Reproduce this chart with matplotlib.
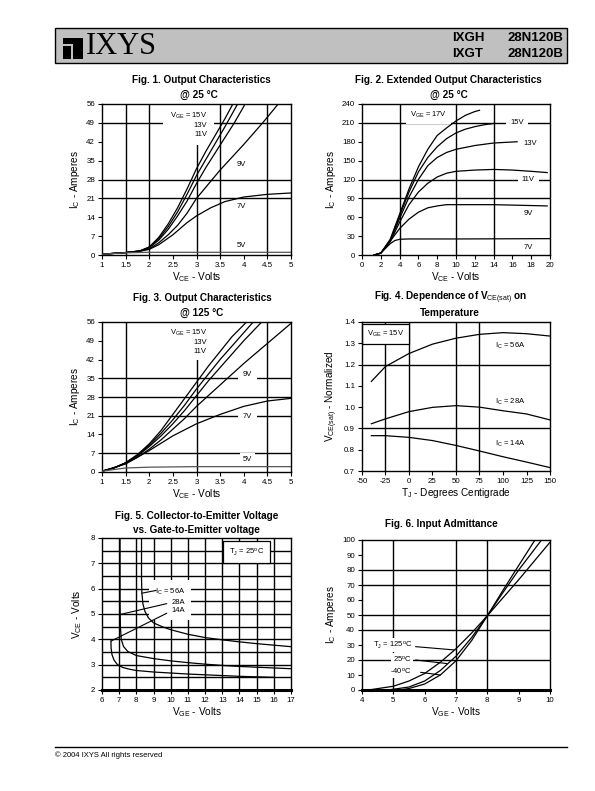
# IXGH/IXGT 28N120B datasheet page - six characteristic curves
import numpy as np
import matplotlib.pyplot as plt
from matplotlib.patches import Rectangle
from matplotlib.lines import Line2D

plt.rcParams['font.family'] = ['Liberation Sans', 'DejaVu Sans']
plt.rcParams['mathtext.fontset'] = 'custom'
plt.rcParams['mathtext.rm'] = 'Liberation Sans'
plt.rcParams['mathtext.it'] = 'Liberation Sans'
plt.rcParams['mathtext.bf'] = 'Liberation Sans:bold'

W, H = 595, 791

# ---- Fig 1: output characteristics @ 25C (VCE, IC) ----
f1_x15 = [1, 1.5, 1.8, 2.0, 2.2, 2.4, 2.6, 2.8, 3.0, 3.2, 3.4, 3.6, 3.77]
f1_y15 = [0.3, 0.9, 1.5, 3.0, 6.5, 11.5, 17.5, 24.5, 32, 38.5, 44.5, 50.5, 56]
f1_x13 = [1, 1.5, 1.8, 2.0, 2.2, 2.4, 2.6, 2.8, 3.0, 3.2, 3.4, 3.6, 3.87]
f1_y13 = [0.3, 0.9, 1.5, 2.9, 6.0, 10.5, 16, 22.5, 29.5, 35.5, 41.5, 47.5, 56]
f1_x11 = [1, 1.5, 1.8, 2.0, 2.2, 2.4, 2.6, 2.8, 3.0, 3.2, 3.4, 3.6, 3.8, 4.03]
f1_y11 = [0.3, 0.9, 1.5, 2.7, 5.5, 9.5, 14.5, 20, 26.5, 32.5, 38, 43.5, 49, 56]
f1_x9 = [1, 1.5, 1.8, 2.0, 2.2, 2.4, 2.6, 2.8, 3.0, 3.5, 4.0, 4.4, 4.73]
f1_y9 = [0.3, 0.9, 1.4, 2.3, 4.5, 7.5, 11, 15.5, 21, 31.5, 41, 49, 56]
f1_x7 = [1, 1.5, 1.8, 2.0, 2.2, 2.5, 2.8, 3.0, 3.3, 3.6, 4.0, 4.5, 5.0]
f1_y7 = [0.3, 0.9, 1.4, 2.1, 3.8, 7.5, 12, 14.5, 17.5, 19.8, 21.5, 22.5, 23]
f1_x5 = [1, 1.5, 2.0, 2.5, 3, 4, 5]
f1_y5 = [0.3, 0.8, 1.0, 1.0, 1.0, 1.0, 1.0]

# ---- Fig 2: extended output characteristics @ 25C ----
f2_x17 = [1.3, 2, 3, 4, 5, 6, 7, 8, 9, 10, 11, 12, 12.5]
f2_y17 = [0, 3, 25, 65, 105, 140, 168, 190, 202, 213, 222, 228, 230]
f2_x15 = [1.3, 2, 3, 4, 5, 6, 7, 8, 9, 10, 11, 12, 13, 14]
f2_y15 = [0, 3, 23, 62, 100, 132, 155, 172, 185, 194, 200, 204, 207, 209]
f2_x13 = [1.3, 2, 3, 4, 5, 6, 7, 8, 9, 10, 12, 14, 16.5]
f2_y13 = [0, 3, 22, 58, 92, 120, 142, 155, 163, 168, 174, 178, 180]
f2_x11 = [1.3, 2, 3, 4, 5, 6, 7, 8, 9, 10, 12, 14, 16, 18, 19.7]
f2_y11 = [0, 3, 21, 52, 80, 100, 114, 124, 130, 133, 135, 136, 135, 133, 131]
f2_x9 = [1.3, 2, 3, 4, 5, 6, 7, 8, 9, 10, 14, 19.7]
f2_y9 = [0, 3, 22, 42, 57, 68, 75, 78, 80, 80, 80, 78]
f2_x7 = [1.3, 2, 3, 3.5, 4, 5, 10, 20]
f2_y7 = [0, 3, 18, 23, 25, 25.5, 25.5, 26]

# ---- Fig 3: output characteristics @ 125C ----
f3_x15 = [1, 1.25, 1.5, 1.75, 2, 2.25, 2.5, 2.75, 3, 3.25, 3.5, 3.75, 4.06]
f3_y15 = [0.3, 1.5, 3.5, 6.5, 10.5, 15.5, 21.5, 27.5, 33.5, 39.5, 45, 50.5, 56]
f3_x13 = [1, 1.25, 1.5, 1.75, 2, 2.25, 2.5, 2.75, 3, 3.25, 3.5, 3.75, 4, 4.2]
f3_y13 = [0.3, 1.5, 3.4, 6.2, 10, 14.5, 19.5, 25, 31, 36.5, 42, 47, 52, 56]
f3_x11 = [1, 1.25, 1.5, 1.75, 2, 2.25, 2.5, 2.75, 3, 3.25, 3.5, 3.75, 4, 4.38]
f3_y11 = [0.3, 1.5, 3.3, 6.0, 9.5, 13.5, 18, 23, 28.5, 34, 39, 44, 49, 56]
f3_x9 = [1, 1.25, 1.5, 1.75, 2, 2.25, 2.5, 2.75, 3, 3.5, 4, 4.5, 5]
f3_y9 = [0.3, 1.5, 3.2, 5.5, 8.5, 12, 16, 20, 24.5, 32.5, 40.5, 48, 55.5]
f3_x7 = [1, 1.5, 2, 2.5, 3, 3.5, 4, 4.5, 5]
f3_y7 = [0.3, 3, 8, 13.5, 18, 21.5, 24.5, 26.5, 27.5]
f3_x5 = [1, 1.5, 2, 3, 5]
f3_y5 = [0.3, 1.5, 1.8, 2.0, 2.0]

# ---- Fig 4: VCE(sat) normalized vs temperature ----
f4_t = [-40, -25, 0, 25, 50, 75, 100, 125, 150]
f4_56a = [1.121, 1.191, 1.252, 1.296, 1.324, 1.342, 1.350, 1.345, 1.334]
f4_28a = [0.922, 0.945, 0.979, 0.999, 1.007, 1.000, 0.983, 0.968, 0.940]
f4_14a = [0.866, 0.866, 0.858, 0.843, 0.820, 0.794, 0.767, 0.742, 0.716]

# ---- Fig 5: VCE vs VGE @ 25C ----
f5_x56 = [8.3, 8.3, 8.32, 8.38, 8.5, 8.7, 9.0, 9.5, 10, 11, 12, 13, 14, 15, 16, 17]
f5_y56 = [8.0, 6.4, 5.85, 5.4, 5.1, 4.85, 4.65, 4.5, 4.38, 4.2, 4.07, 3.98, 3.9, 3.83, 3.77, 3.71]
f5_x28 = [7.05, 7.05, 7.07, 7.12, 7.25, 7.5, 8, 9, 10, 11, 12, 13, 14, 15, 16, 17]
f5_y28 = [8.0, 5.5, 4.5, 4.0, 3.72, 3.52, 3.36, 3.24, 3.15, 3.08, 3.02, 2.97, 2.93, 2.9, 2.87, 2.84]
f5_x14 = [6.52, 6.53, 6.58, 6.7, 6.9, 7.2, 7.6, 8, 9, 10, 11, 12, 13, 14, 15, 16]
f5_y14 = [3.93, 3.65, 3.4, 3.18, 3.0, 2.89, 2.82, 2.77, 2.71, 2.67, 2.63, 2.6, 2.57, 2.54, 2.52, 2.5]

# ---- Fig 6: input admittance ----
f6_x125 = [4.3, 5, 5.5, 6, 6.5, 7, 7.5, 8, 8.5, 9, 9.5, 10]
f6_y125 = [0.3, 2.5, 6, 11, 18.5, 27.5, 38, 49.5, 61.5, 73.5, 86, 98.5]
f6_x25 = [4.8, 5, 5.5, 6, 6.5, 7, 7.5, 8, 8.5, 9, 9.73]
f6_y25 = [0, 0.5, 2, 6, 13, 22.5, 35, 49.5, 65, 80, 100]
f6_xm40 = [5.2, 5.5, 6, 6.5, 7, 7.5, 8, 8.5, 9, 9.52]
f6_ym40 = [0, 1, 4, 10, 19.5, 33, 49.5, 66.5, 83, 100]


def px_axes(fig, l, t, r, b):
    return fig.add_axes([l / W, 1 - b / H, (r - l) / W, (b - t) / H])


def setup(ax, xlim, ylim, xticks, yticks, yfmt='{:g}'):
    ax.set_xlim(xlim)
    ax.set_ylim(ylim)
    ax.set_xticks(xticks)
    ax.set_xticklabels(['{:g}'.format(v) for v in xticks])
    ax.set_yticks(yticks)
    ax.set_yticklabels([yfmt.format(v) for v in yticks])
    ax.tick_params(direction='out', length=3, width=0.8, labelsize=5.7, pad=2)
    for s in ax.spines.values():
        s.set_linewidth(1.0)


def grid(ax, xs, ys):
    for v in xs:
        ax.axvline(v, color='k', lw=1.0, zorder=1)
    for v in ys:
        ax.axhline(v, color='k', lw=1.0, zorder=1)


def curve(ax, x, y, color='k'):
    ax.plot(x, y, color=color, lw=0.9, zorder=3)


def label(ax, x, y, s, ha='left', pad=1.5, ec='none', **kw):
    ax.text(x, y, s, fontsize=5.5, ha=ha, va='center', zorder=2,
            bbox=dict(fc='white', ec=ec, pad=pad, lw=0.9), **kw)


def leader(ax, start, end):
    ax.annotate('', xy=end, xytext=start, zorder=3,
                arrowprops=dict(arrowstyle='-', lw=0.8, color='k',
                                shrinkA=0, shrinkB=0))


def title(x, y, s):
    fig.text(x / W, 1 - y / H, s, ha='center', va='center',
             fontsize=7.2, weight='bold')


fig = plt.figure(figsize=(W / 100, H / 100), dpi=100)

# header
fig.add_artist(Rectangle((55 / W, 1 - 63 / H), 512 / W, 35 / H,
                         transform=fig.transFigure, fc='#c0c0c0', ec='k', lw=1))
fig.add_artist(Rectangle((63 / W, 1 - 59 / H), 20 / W, 21 / H,
                         transform=fig.transFigure, fc='k', ec='none'))
fig.add_artist(Rectangle((71 / W, 1 - 59 / H), 2 / W, 14 / H,
                         transform=fig.transFigure, fc='#c0c0c0', ec='none'))
fig.add_artist(Rectangle((63 / W, 1 - 46 / H), 10 / W, 2 / H,
                         transform=fig.transFigure, fc='#c0c0c0', ec='none'))
fig.text(86 / W, 1 - 47 / H, 'IXYS', family='Liberation Serif', fontsize=22,
         va='center')
for yy, part in [(38, 'IXGH'), (54, 'IXGT')]:
    fig.text(452 / W, 1 - yy / H, part, fontsize=9.5, weight='bold', va='center')
    fig.text(563 / W, 1 - yy / H, '28N120B', fontsize=9.5, weight='bold',
             va='center', ha='right')

# ---- Fig 1 ----
ax = px_axes(fig, 102, 104, 291, 255)
setup(ax, (1, 5), (0, 56), np.arange(1, 5.01, 0.5), np.arange(0, 57, 7))
grid(ax, [1.5, 2, 3, 3.5, 4.5], [21, 28, 49])
for x, y in [(f1_x15, f1_y15), (f1_x13, f1_y13), (f1_x11, f1_y11),
             (f1_x9, f1_y9), (f1_x7, f1_y7)]:
    curve(ax, x, y)
curve(ax, f1_x5, f1_y5, color='#555555')
ax.text(3.23, 48.6, 'V$_{GE}$ = 15V\n13V\n11V', fontsize=5.5, ha='right',
        va='center', multialignment='right', linespacing=1.3, zorder=2,
        bbox=dict(fc='white', ec='none', pad=5))
label(ax, 3.85, 33.5, '9V')
label(ax, 3.85, 18, '7V')
label(ax, 3.85, 3.7, '5V')
ax.set_xlabel('V$_{CE}$ - Volts', fontsize=7.2, labelpad=1)
ax.set_ylabel('I$_C$ - Amperes', fontsize=7.2, labelpad=3)
title(201, 80, 'Fig. 1. Output Characteristics')
title(199, 95, '@ 25 °C')

# ---- Fig 2 ----
ax = px_axes(fig, 362, 104, 550, 255)
setup(ax, (0, 20), (0, 240), np.arange(0, 21, 2), np.arange(0, 241, 30))
grid(ax, [4, 10, 14], [90, 120, 210])
for x, y in [(f2_x17, f2_y17), (f2_x15, f2_y15), (f2_x13, f2_y13),
             (f2_x11, f2_y11), (f2_x9, f2_y9), (f2_x7, f2_y7)]:
    curve(ax, x, y)
label(ax, 5.1, 223, 'V$_{GE}$ = 17V', pad=3)
label(ax, 15.8, 210, '15V', pad=3)
label(ax, 17.2, 178, '13V', pad=3)
label(ax, 17.0, 120, '11V', pad=3)
label(ax, 17.2, 66, '9V', pad=3)
label(ax, 17.2, 12.7, '7V', pad=3)
ax.set_xlabel('V$_{CE}$ - Volts', fontsize=7.2, labelpad=1)
ax.set_ylabel('I$_C$ - Amperes', fontsize=7.2, labelpad=3)
title(448, 80, 'Fig. 2. Extended Output Characteristics')
title(449, 95, '@ 25 °C')

# ---- Fig 3 ----
ax = px_axes(fig, 102, 322, 291, 472)
setup(ax, (1, 5), (0, 56), np.arange(1, 5.01, 0.5), np.arange(0, 57, 7))
grid(ax, [1.5, 3, 4.5], [7, 21, 28, 35])
for x, y in [(f3_x15, f3_y15), (f3_x13, f3_y13), (f3_x11, f3_y11),
             (f3_x9, f3_y9), (f3_x7, f3_y7)]:
    curve(ax, x, y)
curve(ax, f3_x5, f3_y5, color='#555555')
ax.text(3.22, 48.9, 'V$_{GE}$ = 15V\n13V\n11V', fontsize=5.5, ha='right',
        va='center', multialignment='right', linespacing=1.3, zorder=2,
        bbox=dict(fc='white', ec='none', pad=4))
label(ax, 3.98, 36.3, '9V', pad=3.5)
label(ax, 3.98, 20.8, '7V', pad=3.5)
label(ax, 3.98, 4.6, '5V', pad=2)
ax.set_xlabel('V$_{CE}$ - Volts', fontsize=7.2, labelpad=1)
ax.set_ylabel('I$_C$ - Amperes', fontsize=7.2, labelpad=3)
title(202, 298, 'Fig. 3. Output Characteristics')
title(202, 313, '@ 125 °C')

# ---- Fig 4 ----
ax = px_axes(fig, 362, 322, 550, 471)
setup(ax, (-50, 150), (0.7, 1.4), np.arange(-50, 151, 25),
      np.round(np.arange(0.7, 1.41, 0.1), 1), yfmt='{:.1f}')
grid(ax, [-25, 0, 50, 75], [0.9, 1.2])
for y in [f4_56a, f4_28a, f4_14a]:
    curve(ax, f4_t, y)
label(ax, -25, 1.345, 'V$_{GE}$ = 15V', ha='center', pad=3.5, ec='k')
label(ax, 92, 1.288, 'I$_C$ = 56A')
label(ax, 92, 1.026, 'I$_C$ = 28A')
label(ax, 92, 0.828, 'I$_C$ = 14A')
ax.set_xlabel('T$_J$ - Degrees Centigrade', fontsize=7.2, labelpad=1)
ax.set_ylabel('V$_{CE(sat)}$ - Normalized', fontsize=7.2, labelpad=3)
title(451, 298, 'Fig. 4. Dependence of V$_{CE(sat)}$ on')
title(450, 313, 'Temperature')

# ---- Fig 5 ----
ax = px_axes(fig, 102, 538, 291, 690)
setup(ax, (6, 17), (2, 8), np.arange(6, 18, 1), np.arange(2, 9, 1))
grid(ax, np.arange(7, 17, 1), np.arange(2.5, 8, 0.5))
ax.spines['bottom'].set_linewidth(2.2)
for x, y in [(f5_x56, f5_y56), (f5_x28, f5_y28), (f5_x14, f5_y14)]:
    curve(ax, x, y)
ax.text(10.85, 5.53, 'I$_C$ = 56A\n28A\n14A', fontsize=5.5, ha='right',
        va='center', multialignment='right', linespacing=1.3, zorder=2,
        bbox=dict(fc='white', ec='none', pad=4))
leader(ax, (9.15, 5.93), (8.31, 5.82))
leader(ax, (9.77, 5.41), (7.05, 4.98))
leader(ax, (9.77, 5.03), (6.52, 3.93))
label(ax, 14.4, 7.44, 'T$_J$ = 25$^o$C', ha='center', pad=4, ec='k')
ax.set_xlabel('V$_{GE}$ - Volts', fontsize=7.2, labelpad=1)
ax.set_ylabel('V$_{CE}$ - Volts', fontsize=7.2, labelpad=5)
title(197, 516, 'Fig. 5. Collector-to-Emitter Voltage')
title(196, 530, 'vs. Gate-to-Emitter voltage')

# ---- Fig 6 ----
ax = px_axes(fig, 362, 540, 550, 690)
setup(ax, (4, 10), (0, 100), np.arange(4, 11, 1), np.arange(0, 101, 10))
grid(ax, [5, 7, 8], [20, 40, 50, 70, 80])
ax.spines['bottom'].set_linewidth(2.2)
for x, y in [(f6_x125, f6_y125), (f6_x25, f6_y25), (f6_xm40, f6_ym40)]:
    curve(ax, x, y)
label(ax, 5.62, 30, 'T$_J$ = 125$^o$C', ha='right', pad=1)
label(ax, 5.58, 20.4, '25$^o$C', ha='right', pad=1)
label(ax, 5.58, 12.5, '-40$^o$C', ha='right', pad=1)
leader(ax, (5.71, 28.9), (6.95, 26.7))
leader(ax, (5.71, 20.0), (6.72, 17.6))
leader(ax, (5.87, 11.8), (6.5, 10.0))
ax.set_xlabel('V$_{GE}$ - Volts', fontsize=7.2, labelpad=1)
ax.set_ylabel('I$_C$ - Amperes', fontsize=7.2, labelpad=3)
title(441, 524, 'Fig. 6. Input Admittance')

# footer
fig.add_artist(Line2D([55 / W, 567 / W], [1 - 747 / H, 1 - 747 / H],
                      transform=fig.transFigure, color='k', lw=1))
fig.text(55 / W, 1 - 755 / H, '© 2004 IXYS All rights reserved',
         fontsize=5.5, va='center')

fig.savefig('out.png', dpi=100)
